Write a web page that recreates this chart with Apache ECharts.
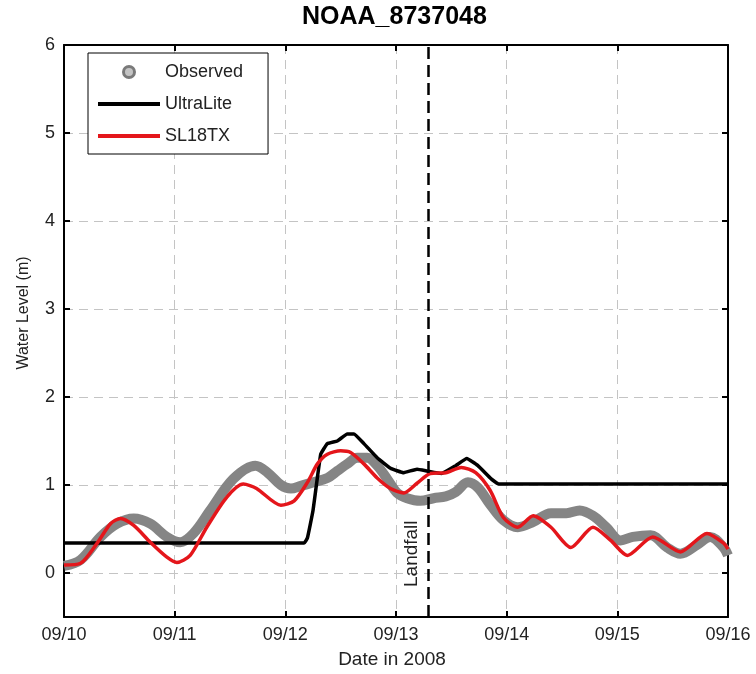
<!DOCTYPE html>
<html>
<head>
<meta charset="utf-8">
<script src="https://cdn.jsdelivr.net/npm/echarts@6/dist/echarts.min.js"></script>
<style>html,body{margin:0;padding:0;background:#fff}#c{width:756px;height:674px}</style>
</head>
<body>
<div id="c"></div>
<script>
// ---- data ----
const dateLabels = ['09/10', '09/11', '09/12', '09/13', '09/14', '09/15', '09/16'];
const yTicks = [0, 1, 2, 3, 4, 5, 6];
const landfallDay = 3.29;

const obsDays  = [0.0, 0.15, 0.33, 0.48, 0.63, 0.78, 0.93, 1.05, 1.17, 1.32, 1.53, 1.73, 1.84, 1.96, 2.05, 2.14, 2.25, 2.38, 2.47, 2.56, 2.65, 2.74, 2.83, 2.92, 3.01, 3.1, 3.22, 3.34, 3.45, 3.54, 3.65, 3.74, 3.85, 3.97, 4.1, 4.24, 4.4, 4.54, 4.66, 4.78, 4.9, 5.03, 5.14, 5.3, 5.45, 5.57, 5.72, 5.84, 5.96, 6.0];
const obsLevel = [0.08, 0.15, 0.41, 0.56, 0.62, 0.56, 0.41, 0.35, 0.45, 0.71, 1.07, 1.22, 1.14, 1.0, 0.96, 0.99, 1.03, 1.08, 1.16, 1.24, 1.31, 1.31, 1.22, 1.07, 0.91, 0.85, 0.82, 0.85, 0.87, 0.92, 1.03, 0.97, 0.78, 0.6, 0.52, 0.58, 0.68, 0.68, 0.71, 0.65, 0.52, 0.37, 0.41, 0.43, 0.29, 0.22, 0.32, 0.41, 0.29, 0.2];

const ulDays  = [0, 2.17, 2.2, 2.25, 2.32, 2.38, 2.47, 2.56, 2.62, 2.71, 2.83, 2.95, 3.07, 3.19, 3.28, 3.41, 3.54, 3.64, 3.74, 3.86, 3.93, 6.0];
const ulLevel = [0.34, 0.34, 0.4, 0.71, 1.35, 1.47, 1.5, 1.58, 1.58, 1.47, 1.31, 1.19, 1.14, 1.18, 1.16, 1.13, 1.22, 1.3, 1.22, 1.07, 1.01, 1.01];

const slDays  = [0, 0.15, 0.3, 0.42, 0.51, 0.63, 0.78, 0.93, 1.02, 1.14, 1.29, 1.47, 1.62, 1.74, 1.96, 2.08, 2.2, 2.29, 2.38, 2.5, 2.59, 2.71, 2.83, 2.95, 3.07, 3.19, 3.31, 3.45, 3.59, 3.72, 3.85, 3.97, 4.1, 4.24, 4.4, 4.58, 4.78, 4.94, 5.09, 5.32, 5.57, 5.81, 5.96, 6.0];
const slLevel = [0.09, 0.11, 0.34, 0.56, 0.62, 0.54, 0.35, 0.18, 0.12, 0.2, 0.52, 0.86, 1.01, 0.96, 0.77, 0.82, 1.03, 1.24, 1.35, 1.39, 1.37, 1.24, 1.08, 0.96, 0.91, 1.02, 1.13, 1.14, 1.2, 1.14, 0.94, 0.63, 0.52, 0.65, 0.52, 0.29, 0.52, 0.37, 0.2, 0.41, 0.24, 0.45, 0.34, 0.27];

const pairs = (xs, ys) => xs.map((x, i) => [x, ys[i]]);

const FONT = 'Liberation Sans, Arial, sans-serif';
const linePath = 'path://M0,0L60,0L60,4L0,4Z';
const gridLine = { show: true, lineStyle: { color: '#c4c4c4', width: 1, type: [9, 6] } };
const axisLine = { show: true, onZero: false, lineStyle: { color: '#000', width: 2 } };
const tick = { show: true, inside: true, length: 6, lineStyle: { color: '#000', width: 2 } };

const chart = echarts.init(document.getElementById('c'), null, { renderer: 'canvas' });
chart.setOption({
  animation: false,
  backgroundColor: '#fff',
  title: {
    text: 'NOAA_8737048', left: 302, top: 5, padding: 0,
    textStyle: { fontFamily: FONT, fontWeight: 'bold', fontSize: 25, color: '#000' }
  },
  grid: { left: 64, right: 28, top: 45, bottom: 57, containLabel: false },
  legend: {
    orient: 'vertical', left: 88, top: 53,
    padding: [10, 25, 9, 10],
    backgroundColor: '#fff', borderColor: '#000', borderWidth: 1,
    itemWidth: 62, itemHeight: 11, itemGap: 14,
    textStyle: { fontFamily: FONT, fontSize: 18, lineHeight: 16, color: '#222' },
    data: [
      { name: 'Observed', icon: 'circle', itemStyle: { color: '#c4c4c4', borderColor: '#7a7a7a', borderWidth: 3 } },
      { name: 'UltraLite', icon: linePath, itemStyle: { color: '#000' } },
      { name: 'SL18TX', icon: linePath, itemStyle: { color: '#e4161b' } }
    ]
  },
  xAxis: [
    {
      type: 'value', position: 'bottom', min: 0, max: 6, interval: 1,
      name: 'Date in 2008', nameLocation: 'middle', nameGap: 33,
      nameTextStyle: { fontFamily: FONT, fontSize: 19, color: '#222', padding: [0, 8, 0, 0] },
      axisLine: axisLine, axisTick: tick, splitLine: gridLine,
      axisLabel: { margin: 9, fontFamily: FONT, fontSize: 18, color: '#222', formatter: v => dateLabels[Math.round(v)] }
    },
    {
      type: 'value', position: 'top', min: 0, max: 6, interval: 1,
      axisLine: axisLine, axisTick: tick, splitLine: { show: false }, axisLabel: { show: false }
    }
  ],
  yAxis: [
    {
      type: 'value', position: 'left', min: -0.5, max: 6,
      name: 'Water Level (m)', nameLocation: 'middle', nameGap: 32,
      nameTextStyle: { fontFamily: FONT, fontSize: 16, color: '#222', padding: [0, 0, 0, 36] },
      axisLine: axisLine,
      axisTick: Object.assign({}, tick, { customValues: yTicks }),
      splitLine: gridLine,
      axisLabel: { customValues: yTicks, margin: 9, fontFamily: FONT, fontSize: 18, color: '#222' }
    },
    {
      type: 'value', position: 'right', min: -0.5, max: 6,
      axisLine: axisLine,
      axisTick: Object.assign({}, tick, { customValues: yTicks }),
      splitLine: { show: false }, axisLabel: { show: false }
    }
  ],
  series: [
    {
      name: 'Observed', type: 'line', smooth: 0.35, symbol: 'circle', showSymbol: false,
      data: pairs(obsDays, obsLevel),
      itemStyle: { color: '#808080' },
      lineStyle: { color: '#858585', width: 10 }, z: 2
    },
    {
      name: 'UltraLite', type: 'line', smooth: 0.1, symbol: 'none',
      data: pairs(ulDays, ulLevel),
      itemStyle: { color: '#000' },
      lineStyle: { color: '#000', width: 3.5 }, z: 3,
      markLine: {
        silent: true, symbol: 'none', animation: false,
        lineStyle: { color: '#000', width: 2.5, type: [12, 6] },
        label: {
          show: true, formatter: 'Landfall', position: 'insideStartTop',
          fontFamily: FONT, fontSize: 19, color: '#222', distance: [30, 7]
        },
        data: [{ xAxis: landfallDay }]
      }
    },
    {
      name: 'SL18TX', type: 'line', smooth: 0.25, symbol: 'none',
      data: pairs(slDays, slLevel),
      itemStyle: { color: '#e4161b' },
      lineStyle: { color: '#e4161b', width: 3.5 }, z: 4
    }
  ]
});
</script>
</body>
</html>
